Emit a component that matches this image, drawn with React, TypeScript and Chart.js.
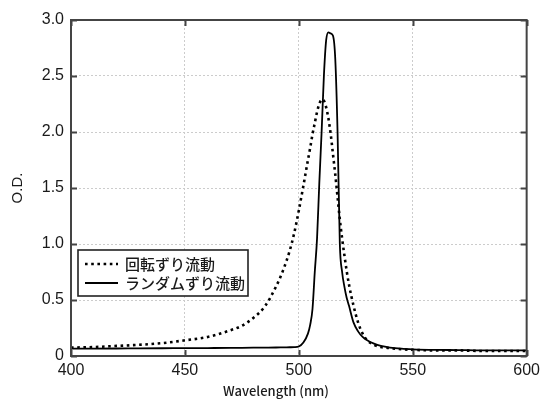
import React, { useEffect, useRef } from 'react';
import { Chart, registerables } from 'chart.js';

Chart.register(...registerables);

const wavelengths = [
  400, 410, 420, 430, 440, 450, 460, 470, 475, 480, 485, 490, 493, 496, 498,
  500, 502, 504, 505, 506, 507, 508, 509, 510, 511, 512, 513, 514, 515, 516,
  517, 518, 519, 520, 521, 522, 524, 526, 528, 530, 533, 536, 540, 545, 550,
  560, 570, 580, 590, 600,
];

const rotational = [
  0.075, 0.08, 0.09, 0.1, 0.115, 0.14, 0.17, 0.23, 0.27, 0.34, 0.44, 0.62, 0.76, 0.94, 1.1,
  1.3, 1.52, 1.75, 1.86, 1.98, 2.08, 2.18, 2.25, 2.29, 2.28, 2.22, 2.12, 1.98, 1.8, 1.62,
  1.42, 1.22, 1.05, 0.9, 0.76, 0.64, 0.45, 0.3, 0.2, 0.14, 0.1, 0.08, 0.07, 0.06, 0.055,
  0.05, 0.05, 0.045, 0.045, 0.045,
];

const random = [
  0.065, 0.066, 0.067, 0.068, 0.069, 0.07, 0.071, 0.072, 0.073, 0.074, 0.075, 0.076, 0.077, 0.078, 0.079,
  0.085, 0.12, 0.2, 0.28, 0.42, 0.75, 1.05, 1.55, 2.0, 2.5, 2.82, 2.89, 2.88, 2.86, 2.65,
  2.0, 1.0, 0.75, 0.62, 0.52, 0.45, 0.3, 0.22, 0.17, 0.14, 0.11, 0.09, 0.075, 0.065, 0.06,
  0.055, 0.053, 0.05, 0.05, 0.05,
];

const seriesLabels = ['回転ずり流動', 'ランダムずり流動'];
const xTickValues = [400, 450, 500, 550, 600];
const yTickValues = [0, 0.5, 1.0, 1.5, 2.0, 2.5, 3.0];
const xTitle = 'Wavelength (nm)';
const yTitle = 'O.D.';

const FRAME = '#444444';
const TEXT = '#1a1a1a';

const decorPlugin = {
  id: 'decor',
  afterDraw(chart: any) {
    const { ctx, chartArea: a, scales } = chart;
    const xs = scales.x;
    const ys = scales.y;
    ctx.save();
    // inside ticks
    ctx.strokeStyle = FRAME;
    ctx.lineWidth = 2;
    const tl = 6;
    ctx.beginPath();
    xTickValues.forEach((v) => {
      const px = Math.round(xs.getPixelForValue(v)) + 0.5;
      ctx.moveTo(px, a.bottom);
      ctx.lineTo(px, a.bottom - tl);
      ctx.moveTo(px, a.top);
      ctx.lineTo(px, a.top + tl);
    });
    yTickValues.forEach((v) => {
      const py = Math.round(ys.getPixelForValue(v)) + 0.5;
      ctx.moveTo(a.left, py);
      ctx.lineTo(a.left + tl, py);
      ctx.moveTo(a.right, py);
      ctx.lineTo(a.right - tl, py);
    });
    ctx.stroke();
    // frame
    ctx.lineWidth = 2;
    ctx.strokeRect(a.left, a.top, a.right - a.left, a.bottom - a.top);

    // legend
    const bx = a.left + 7;
    const by = a.top + 230;
    const bw = 170;
    const bh = 46;
    ctx.fillStyle = '#ffffff';
    ctx.fillRect(bx, by, bw, bh);
    ctx.strokeStyle = '#222222';
    ctx.lineWidth = 1.6;
    ctx.strokeRect(bx, by, bw, bh);
    const ds = chart.data.datasets;
    ctx.font = '500 15px "Noto Sans CJK JP"';
    ctx.textBaseline = 'middle';
    ctx.textAlign = 'left';
    ds.forEach((d: any, i: number) => {
      const ly = by + 14 + i * 19;
      ctx.strokeStyle = '#000';
      ctx.lineWidth = d.borderWidth;
      ctx.setLineDash(d.borderDash || []);
      ctx.beginPath();
      ctx.moveTo(bx + 7, ly);
      ctx.lineTo(bx + 40, ly);
      ctx.stroke();
      ctx.setLineDash([]);
      ctx.fillStyle = TEXT;
      ctx.fillText(d.label, bx + 47, ly);
    });

    // axis titles
    ctx.fillStyle = TEXT;
    ctx.font = '500 13px "Noto Sans CJK JP"';
    ctx.textAlign = 'center';
    ctx.textBaseline = 'middle';
    ctx.fillText(xTitle, a.left + (a.right - a.left) * 0.45, 391);
    ctx.font = '15px "Liberation Sans"';
    ctx.translate(18, (a.top + a.bottom) / 2);
    ctx.rotate(-Math.PI / 2);
    ctx.fillText(yTitle, 0, 0);
    ctx.restore();
  },
};

export default function App() {
  const ref = useRef<HTMLCanvasElement | null>(null);
  useEffect(() => {
    if (!ref.current) return;
    const chart = new Chart(ref.current, {
      type: 'line',
      data: {
        datasets: [
          {
            label: seriesLabels[0],
            data: wavelengths.map((x, i) => ({ x, y: rotational[i] })),
            borderColor: '#000000',
            borderWidth: 2.6,
            borderDash: [2.6, 3.6],
            pointRadius: 0,
            cubicInterpolationMode: 'monotone',
            fill: false,
          },
          {
            label: seriesLabels[1],
            data: wavelengths.map((x, i) => ({ x, y: random[i] })),
            borderColor: '#000000',
            borderWidth: 1.8,
            borderDash: [],
            pointRadius: 0,
            cubicInterpolationMode: 'monotone',
            fill: false,
          },
        ],
      },
      options: {
        animation: false,
        responsive: false,
        layout: { padding: { top: 20, right: 15, left: 0, bottom: 0 } },
        plugins: { legend: { display: false }, tooltip: { enabled: false } },
        scales: {
          x: {
            type: 'linear',
            min: 400,
            max: 600,
            afterFit: (s: any) => { s.height = 44; },
            afterBuildTicks: (s: any) => { s.ticks = xTickValues.map((v) => ({ value: v })); },
            ticks: {
              color: TEXT,
              font: { family: '"Liberation Sans", Arial', size: 16 },
              padding: 5,
              maxRotation: 0,
            },
            grid: { color: '#cccccc', lineWidth: 1, drawTicks: false },
            border: { display: false, dash: [2, 2] },
          },
          y: {
            type: 'linear',
            min: 0,
            max: 3,
            afterFit: (s: any) => { s.width = 71; },
            afterBuildTicks: (s: any) => { s.ticks = yTickValues.map((v) => ({ value: v })); },
            ticks: {
              color: TEXT,
              font: { family: '"Liberation Sans", Arial', size: 16 },
              padding: 7,
              callback: (v: any) => (Number(v) === 0 ? '0' : Number(v).toFixed(1)),
            },
            grid: { color: '#cccccc', lineWidth: 1, drawTicks: false },
            border: { display: false, dash: [2, 2] },
          },
        },
      },
      plugins: [decorPlugin],
    } as any);
    return () => chart.destroy();
  }, []);
  return (
    <div style={{ position: 'fixed', left: 0, top: 0, width: 545, height: 400, background: '#fff' }}>
      <canvas ref={ref} width={545} height={400} style={{ display: 'block' }} />
    </div>
  );
}
